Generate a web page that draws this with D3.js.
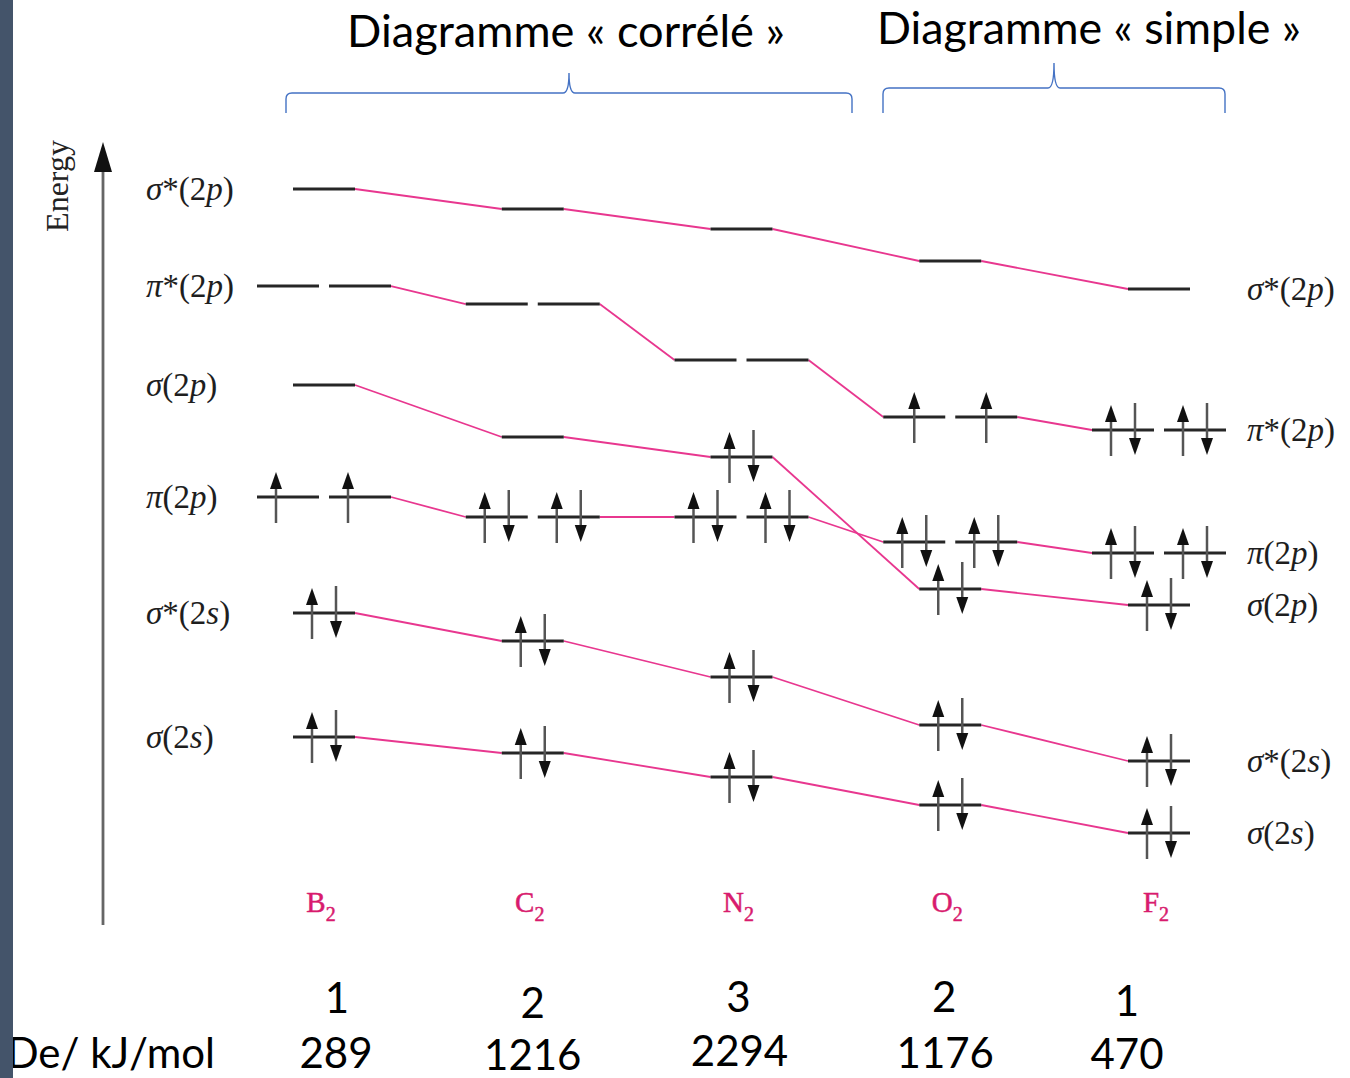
<!DOCTYPE html>
<html>
<head>
<meta charset="utf-8">
<script src="https://cdn.jsdelivr.net/npm/d3@7"></script>
<style>
  html, body { margin: 0; padding: 0; background: #fff; }
  svg { display: block; }
</style>
</head>
<body>
<svg id="chart" width="1350" height="1078"></svg>
<script>
// ---------- DATA ----------
const molecules = ["B", "C", "N", "O", "F"];           // X2 molecules
const orbitals = ["σ*(2p)", "π*(2p)", "σ(2p)", "π(2p)", "σ*(2s)", "σ(2s)"];
const degeneracy = [1, 2, 1, 2, 1, 1];
// Relative energy (arbitrary units) of each orbital, per molecule B2..F2
const eSigmaStar2p = [73.6, 71.6, 69.6, 66.4, 63.6];
const ePiStar2p    = [63.9, 62.1, 56.5, 50.8, 49.5];
const eSigma2p     = [54.0, 48.8, 46.8, 33.6, 32.0];
const ePi2p        = [42.8, 40.8, 40.8, 38.3, 37.2];
const eSigmaStar2s = [31.2, 28.4, 24.8, 20.0, 16.4];
const eSigma2s     = [18.8, 17.2, 14.8, 12.0, 9.2];
// electrons per orbital (per degenerate component)
const occSigmaStar2p = [0, 0, 0, 0, 0];
const occPiStar2p    = [0, 0, 0, 1, 2];
const occSigma2p     = [0, 0, 2, 2, 2];
const occPi2p        = [1, 2, 2, 2, 2];
const occSigmaStar2s = [2, 2, 2, 2, 2];
const occSigma2s     = [2, 2, 2, 2, 2];
const bondOrder = ["1", "2", "3", "2", "1"];
const dissociation = ["289", "1216", "2294", "1176", "470"];
const titleCorrele = "Diagramme « corrélé »";
const titleSimple = "Diagramme « simple »";
const deLabel = "De/ kJ/mol";
const axisLabel = "Energy";

const energies = [eSigmaStar2p, ePiStar2p, eSigma2p, ePi2p, eSigmaStar2s, eSigma2s];
const occupancy = [occSigmaStar2p, occPiStar2p, occSigma2p, occPi2p, occSigmaStar2s, occSigma2s];

// ---------- SCALES ----------
const svg = d3.select("#chart");
const x = d3.scalePoint().domain(molecules).range([324, 1159]);
const y = d3.scaleLinear().domain([0, 78.3]).range([925, 142]);

const PINK = "#e8378f";
const LEVEL = "#262626";
const halfSingle = 31, segOut = 67, segIn = 5;

function segments(m, k) {
  const c = x(m);
  if (degeneracy[k] === 2) return [[c - segOut, c - segIn], [c + segIn, c + segOut]];
  return [[c - halfSingle, c + halfSingle]];
}

// ---------- CONNECTING LINES ----------
const gLinks = svg.append("g");
orbitals.forEach((o, k) => {
  for (let i = 0; i < molecules.length - 1; i++) {
    const s1 = segments(molecules[i], k), s2 = segments(molecules[i + 1], k);
    gLinks.append("line")
      .attr("x1", s1[s1.length - 1][1]).attr("y1", y(energies[k][i]))
      .attr("x2", s2[0][0]).attr("y2", y(energies[k][i + 1]))
      .attr("stroke", PINK).attr("stroke-width", 1.8);
  }
});

// ---------- LEVELS + ELECTRONS ----------
const gLev = svg.append("g");
function upArrow(cx, cy) {
  gLev.append("line").attr("x1", cx).attr("x2", cx).attr("y1", cy + 26).attr("y2", cy - 12)
    .attr("stroke", "#555").attr("stroke-width", 2.5);
  gLev.append("path").attr("d", `M${cx},${cy - 25} L${cx - 6},${cy - 8} L${cx + 6},${cy - 8} Z`).attr("fill", "#111");
}
function downArrow(cx, cy) {
  gLev.append("line").attr("x1", cx).attr("x2", cx).attr("y1", cy - 27).attr("y2", cy + 12)
    .attr("stroke", "#555").attr("stroke-width", 2.5);
  gLev.append("path").attr("d", `M${cx},${cy + 25} L${cx - 6},${cy + 8} L${cx + 6},${cy + 8} Z`).attr("fill", "#111");
}
orbitals.forEach((o, k) => {
  molecules.forEach((m, i) => {
    const yy = y(energies[k][i]);
    segments(m, k).forEach(seg => {
      gLev.append("line").attr("x1", seg[0]).attr("x2", seg[1]).attr("y1", yy).attr("y2", yy)
        .attr("stroke", LEVEL).attr("stroke-width", 3.2);
      const sc = (seg[0] + seg[1]) / 2;
      const n = occupancy[k][i];
      if (n === 2) { upArrow(sc - 12, yy); downArrow(sc + 12, yy); }
      else if (n === 1) { upArrow(i === 0 ? sc - 12 : sc, yy); }
    });
  });
});

// ---------- ORBITAL LABELS ----------
function orbLabel(txt, xx, yy) {
  const t = svg.append("text").attr("x", xx).attr("y", yy + 11)
    .attr("font-family", "Liberation Serif, serif").attr("font-size", 33).attr("fill", "#1e1e1e");
  const m = txt.match(/^(.)(\*?)\((\d)(.)\)$/);
  t.append("tspan").attr("font-style", "italic").text(m[1]);
  if (m[2]) t.append("tspan").text(m[2]);
  t.append("tspan").text("(" + m[3]);
  t.append("tspan").attr("font-style", "italic").text(m[4]);
  t.append("tspan").text(")");
}
orbitals.forEach((o, k) => {
  orbLabel(o, 146, y(energies[k][0]));
  orbLabel(o, 1247, y(energies[k][molecules.length - 1]));
});

// ---------- ENERGY AXIS ----------
svg.append("line").attr("x1", 103).attr("x2", 103).attr("y1", y(0)).attr("y2", y(76))
  .attr("stroke", "#666").attr("stroke-width", 2.8);
svg.append("path").attr("d", `M103,${y(78.3)} L94,${y(78.3) + 30} L112,${y(78.3) + 30} Z`).attr("fill", "#111");
svg.append("text").attr("transform", "translate(68,186) rotate(-90)")
  .attr("text-anchor", "middle").attr("font-family", "Liberation Serif, serif")
  .attr("font-size", 32).attr("fill", "#222").text(axisLabel);

// ---------- MOLECULE LABELS ----------
molecules.forEach(m => {
  const t = svg.append("text").attr("x", x(m) - 3).attr("y", 912).attr("text-anchor", "middle")
    .attr("font-family", "Liberation Serif, serif").attr("font-size", 29)
    .attr("fill", "#d81b6e").attr("stroke", "#d81b6e").attr("stroke-width", 0.5);
  t.append("tspan").text(m);
  t.append("tspan").attr("font-size", 20).attr("dy", 9).text("2");
});

// ---------- TITLES + BRACES ----------
function fitText(sel, width) {
  const len = sel.node().getComputedTextLength();
  const fs = parseFloat(sel.attr("font-size"));
  sel.attr("font-size", fs * width / len);
}
const T_FONT = "Lato, 'Open Sans', sans-serif";
const t1 = svg.append("text").attr("x", 566).attr("y", 47).attr("text-anchor", "middle")
  .attr("font-family", T_FONT).attr("font-size", 38).attr("fill", "#000").text(titleCorrele);
fitText(t1, 438);
const t2 = svg.append("text").attr("x", 1089).attr("y", 44).attr("text-anchor", "middle")
  .attr("font-family", T_FONT).attr("font-size", 38).attr("fill", "#000").text(titleSimple);
fitText(t2, 424);

function brace(x0, x1, xc, yb, ytop, yend) {
  const r = 6;
  const d = `M${x0},${yend} L${x0},${yb + r} Q${x0},${yb} ${x0 + r},${yb} L${xc - r},${yb} Q${xc},${yb} ${xc},${ytop}` +
            ` Q${xc},${yb} ${xc + r},${yb} L${x1 - r},${yb} Q${x1},${yb} ${x1},${yb + r} L${x1},${yend}`;
  svg.append("path").attr("d", d).attr("fill", "none").attr("stroke", "#4472c4").attr("stroke-width", 1.4);
}
brace(286, 852, 569, 93, 73, 113);
brace(883, 1225, 1054, 88, 63, 113);

// ---------- BOTTOM ROWS ----------
const B_FONT = "Lato, 'Open Sans', sans-serif";
const dxOrder = [13, 0, -3, -6, -32], dyOrder = [0, 5, -1, -1, 3];
const dxDe = [12, 0, -2, -5, -32], dyDe = [0, 2, -2, 0, 1];
molecules.forEach((m, i) => {
  svg.append("text").attr("x", x(m) + dxOrder[i]).attr("y", 1013 + dyOrder[i]).attr("text-anchor", "middle")
    .attr("font-family", B_FONT).attr("font-size", 42).attr("fill", "#000").text(bondOrder[i]);
  svg.append("text").attr("x", x(m) + dxDe[i]).attr("y", 1068 + dyDe[i]).attr("text-anchor", "middle")
    .attr("font-family", B_FONT).attr("font-size", 42).attr("fill", "#000").text(dissociation[i]);
});
svg.append("text").attr("x", 215).attr("y", 1068).attr("text-anchor", "end")
  .attr("font-family", B_FONT).attr("font-size", 42).attr("fill", "#000").text(deLabel);

// ---------- LEFT DARK BAR ----------
svg.append("rect").attr("x", 0).attr("y", 0).attr("width", 13).attr("height", 1078).attr("fill", "#44546a");
</script>
</body>
</html>
